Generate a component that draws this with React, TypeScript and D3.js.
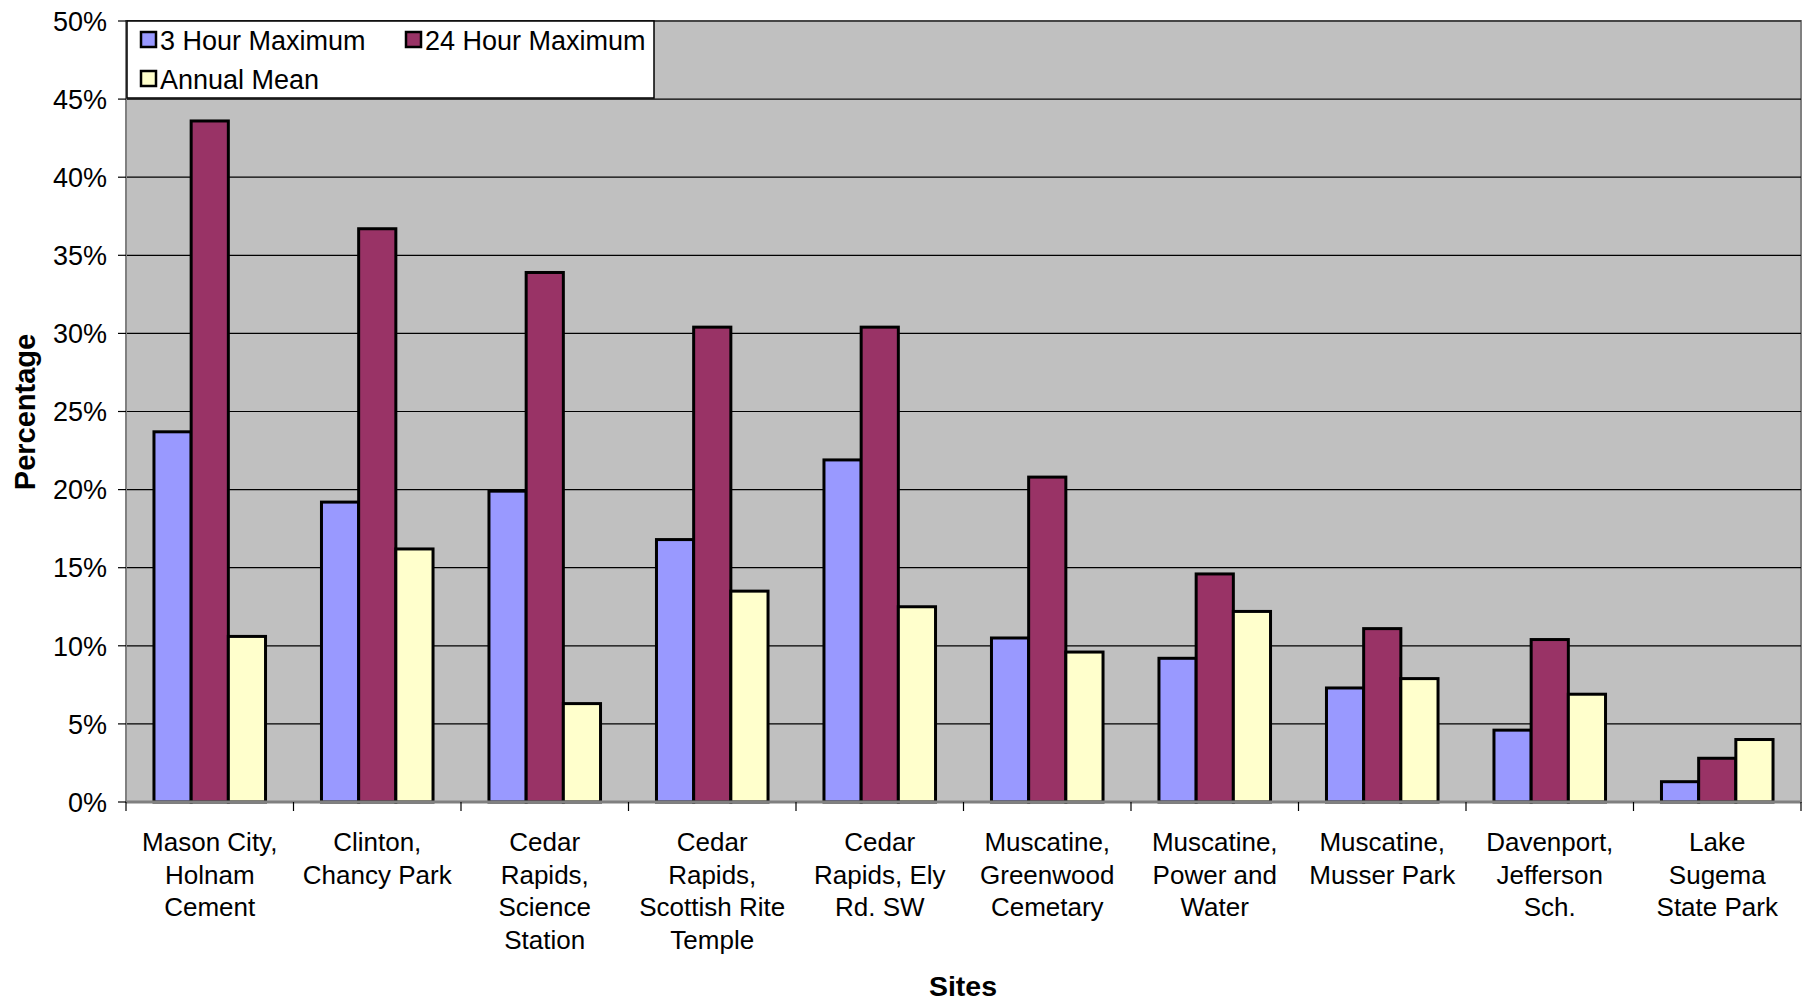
import React from "react";
import * as d3 from "d3";

const categories: string[][] = [
  ["Mason City,", "Holnam", "Cement"],
  ["Clinton,", "Chancy Park"],
  ["Cedar", "Rapids,", "Science", "Station"],
  ["Cedar", "Rapids,", "Scottish Rite", "Temple"],
  ["Cedar", "Rapids, Ely", "Rd. SW"],
  ["Muscatine,", "Greenwood", "Cemetary"],
  ["Muscatine,", "Power and", "Water"],
  ["Muscatine,", "Musser Park"],
  ["Davenport,", "Jefferson", "Sch."],
  ["Lake", "Sugema", "State Park"],
];
const seriesNames = ["3 Hour Maximum", "24 Hour Maximum", "Annual Mean"];
const hour3 = [23.7, 19.2, 19.9, 16.8, 21.9, 10.5, 9.2, 7.3, 4.6, 1.3];
const hour24 = [43.6, 36.7, 33.9, 30.4, 30.4, 20.8, 14.6, 11.1, 10.4, 2.8];
const annual = [10.6, 16.2, 6.3, 13.5, 12.5, 9.6, 12.2, 7.9, 6.9, 4.0];
const yTicks = [0, 5, 10, 15, 20, 25, 30, 35, 40, 45, 50];
const colors = ["#9999FF", "#993366", "#FFFFCC"];

const W = 1808, H = 1002;
const L = 126, R = 1801, T = 21, B = 802;
const FONT = "'Liberation Sans', Arial, sans-serif";

export default function App() {
  const series = [hour3, hour24, annual];
  const x = d3.scaleBand<number>().domain(d3.range(categories.length)).range([L, R]).paddingInner(0).paddingOuter(0);
  const y = d3.scaleLinear().domain([0, 50]).range([B, T]);
  const bw = x.bandwidth() * 0.222;
  const groupW = bw * 3;

  return (
    <svg width={W} height={H} style={{ position: "absolute", left: 0, top: 0, background: "#fff" }} fontFamily={FONT}>
      <rect x={L} y={T} width={R - L} height={B - T} fill="#C0C0C0" stroke="#808080" strokeWidth={2} />
      {yTicks.filter(t => t > 0 && t < 50).map(t => (
        <line key={t} x1={L} x2={R} y1={y(t)} y2={y(t)} stroke="#000" strokeWidth={1.2} />
      ))}
      <line x1={L} x2={R} y1={T} y2={T} stroke="#333" strokeWidth={1.5} />
      {series.map((s, si) =>
        s.map((v, i) => {
          const x0 = (x(i) as number) + (x.bandwidth() - groupW) / 2 + si * bw;
          return (
            <rect key={si + "-" + i} x={x0} y={y(v)} width={bw} height={y(0) - y(v)}
              fill={colors[si]} stroke="#000" strokeWidth={3} />
          );
        })
      )}
      <line x1={L} x2={L} y1={T} y2={B} stroke="#808080" strokeWidth={2} />
      <line x1={L} x2={R} y1={B} y2={B} stroke="#808080" strokeWidth={3} />
      {yTicks.map(t => (
        <g key={t}>
          <line x1={L - 8} x2={L} y1={y(t)} y2={y(t)} stroke="#000" strokeWidth={1.2} />
          <text x={107} y={y(t)} dy="0.36em" textAnchor="end" fontSize={27} fill="#000">{t + "%"}</text>
        </g>
      ))}
      {d3.range(categories.length + 1).map(i => {
        const xx = i < categories.length ? (x(i) as number) : R;
        return <line key={i} x1={xx} x2={xx} y1={B} y2={B + 9} stroke="#000" strokeWidth={1.2} />;
      })}
      {categories.map((lines, i) => (
        <text key={i} textAnchor="middle" fontSize={26} fill="#000">
          {lines.map((ln, j) => (
            <tspan key={j} x={(x(i) as number) + x.bandwidth() / 2} y={851 + j * 32.5}>{ln}</tspan>
          ))}
        </text>
      ))}
      <text x={963} y={996} textAnchor="middle" fontSize={28.5} fontWeight="bold">Sites</text>
      <text transform={`translate(35, 412) rotate(-90)`} textAnchor="middle" fontSize={29} fontWeight="bold">Percentage</text>
      <rect x={127} y={21} width={527} height={77} fill="#fff" stroke="#000" strokeWidth={1.5} />
      {seriesNames.map((n, i) => {
        const lx = i === 1 ? 406 : 141;
        const ly = i === 2 ? 79 : 40;
        return (
          <g key={n}>
            <rect x={lx} y={ly - 8} width={15} height={15} fill={colors[i]} stroke="#000" strokeWidth={2.5} />
            <text x={lx + 19} y={ly} dy="0.36em" fontSize={27} fill="#000">{n}</text>
          </g>
        );
      })}
    </svg>
  );
}
